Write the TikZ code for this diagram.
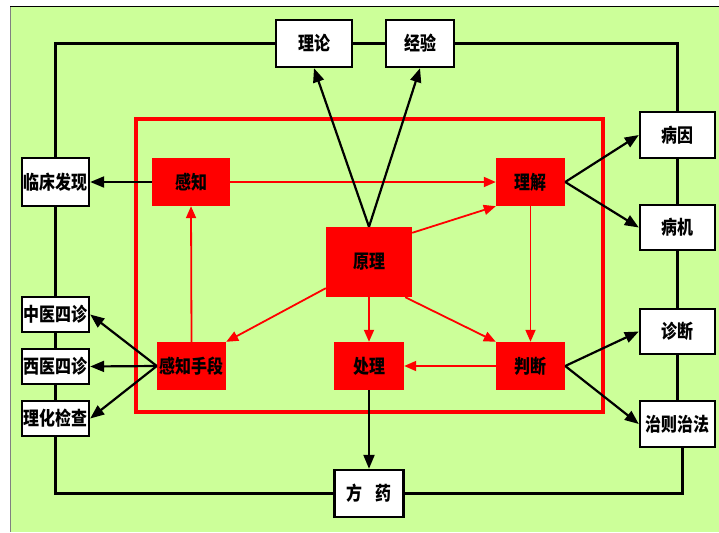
\documentclass[tikz,border=0pt]{standalone}
\usepackage{fontspec}
\newfontfamily\cjk[FakeStretch=0.84]{Noto Sans CJK SC}
\usetikzlibrary{arrows.meta, positioning}
\definecolor{bggreen}{RGB}{204,255,153}

\begin{document}
\begin{tikzpicture}[
    x=1pt, y=-1pt,
    whitebox/.style={
        rectangle,
        draw=black,
        line width=2.4pt,
        fill=white,
        inner sep=0pt,
        font=\cjk\bfseries\fontsize{19}{19}\selectfont
    },
    redbox/.style={
        rectangle,
        fill=red,
        inner sep=0pt,
        font=\cjk\bfseries\fontsize{19}{19}\selectfont
    },
    loopline/.style={line width=3.3pt},
    blackarrow/.style={line width=2.2pt, -{Triangle[length=14pt, width=11pt]}},
    redarrow/.style={draw=red, line width=1.8pt, -{Triangle[length=12pt, width=10pt]}}
]

\useasboundingbox (0,0) rectangle (719,532);
\fill[white] (0,0) rectangle (719,532);
\fill[bggreen] (10,7) rectangle (719,532);
\draw[gray, line width=1pt] (10.5,7) -- (10.5,532);
\draw[black, line width=1pt] (10,7) -- (719,7);

% red frame
\draw[red, line width=3.2pt] (136,119) rectangle (603,412);

% white boxes
\node[whitebox, minimum width=76, minimum height=47] (theory) at (314,43.5) {理论};
\node[whitebox, minimum width=68, minimum height=47] (experience) at (420,43.5) {经验};
\node[whitebox, minimum width=67, minimum height=48] (finding) at (55.5,182) {临床发现};
\node[whitebox, minimum width=67, minimum height=35] (tcm) at (55.5,314.5) {中医四诊};
\node[whitebox, minimum width=67, minimum height=35] (western) at (55.5,366.5) {西医四诊};
\node[whitebox, minimum width=67, minimum height=35] (lab) at (55.5,418.5) {理化检查};
\node[whitebox, minimum width=75, minimum height=46] (cause) at (677.5,135) {病因};
\node[whitebox, minimum width=75, minimum height=45] (mechanism) at (677.5,227.5) {病机};
\node[whitebox, minimum width=75, minimum height=45] (diagnosis) at (677.5,331.5) {诊断};
\node[whitebox, minimum width=75, minimum height=46] (treat) at (677.5,424) {治则治法};
\node[whitebox, minimum width=69, minimum height=47] (recipe) at (369,493.5) {方\hspace{13pt}药};

% red boxes
\node[redbox, minimum width=78, minimum height=48] (perceive) at (191,182) {感知};
\node[redbox, minimum width=69, minimum height=48] (understand) at (530.5,182) {理解};
\node[redbox, minimum width=86, minimum height=70] (principle) at (369,262) {原理};
\node[redbox, minimum width=69, minimum height=48] (means) at (191.5,366) {感知手段};
\node[redbox, minimum width=70, minimum height=48] (handle) at (369,366) {处理};
\node[redbox, minimum width=69, minimum height=48] (judge) at (530.5,366) {判断};

% outer loop
\draw[loopline] (theory.west) -| (finding.north);
\draw[loopline] (theory.east) -- (experience.west);
\draw[loopline] (experience.east) -| (cause.north);
\draw[loopline] (cause.south) -- (mechanism.north);
\draw[loopline] (mechanism.south) -- (diagnosis.north);
\draw[loopline] (diagnosis.south) -- (treat.north);
\draw[loopline] ([xshift=5pt]treat.south) |- (recipe.east);
\draw[loopline] (recipe.west) -| (lab.south);
\draw[loopline] (lab.north) -- (western.south);
\draw[loopline] (western.north) -- (tcm.south);
\draw[loopline] (tcm.north) -- (finding.south);

% red arrows
\draw[redarrow] (perceive.east) -- (understand.west);
\draw[redarrow] ([yshift=-6pt]principle.north east) -- (understand.south west);
\draw[redarrow] (understand.south) -- (judge.north);
\draw[redarrow] ([xshift=-7pt]principle.south east) -- (judge.north west);
\draw[redarrow] (principle.south) -- (handle.north);
\draw[redarrow] (judge.west) -- (handle.east);
\draw[redarrow] ([yshift=9pt]principle.south west) -- (means.north east);
\draw[redarrow] (means.north) -- (perceive.south);

% black arrows
\draw[blackarrow] (perceive.west) -- (finding.east);
\draw[blackarrow] (principle.north) -- (theory.south);
\draw[blackarrow] (principle.north) -- (experience.south);
\draw[blackarrow] (understand.east) -- (cause.west);
\draw[blackarrow] (understand.east) -- (mechanism.west);
\draw[blackarrow] (judge.east) -- (diagnosis.west);
\draw[blackarrow] (judge.east) -- (treat.west);
\draw[blackarrow] (means.west) -- (tcm.east);
\draw[blackarrow] (means.west) -- (western.east);
\draw[blackarrow] (means.west) -- (lab.east);
\draw[blackarrow] (handle.south) -- (recipe.north);

\end{tikzpicture}
\end{document}
